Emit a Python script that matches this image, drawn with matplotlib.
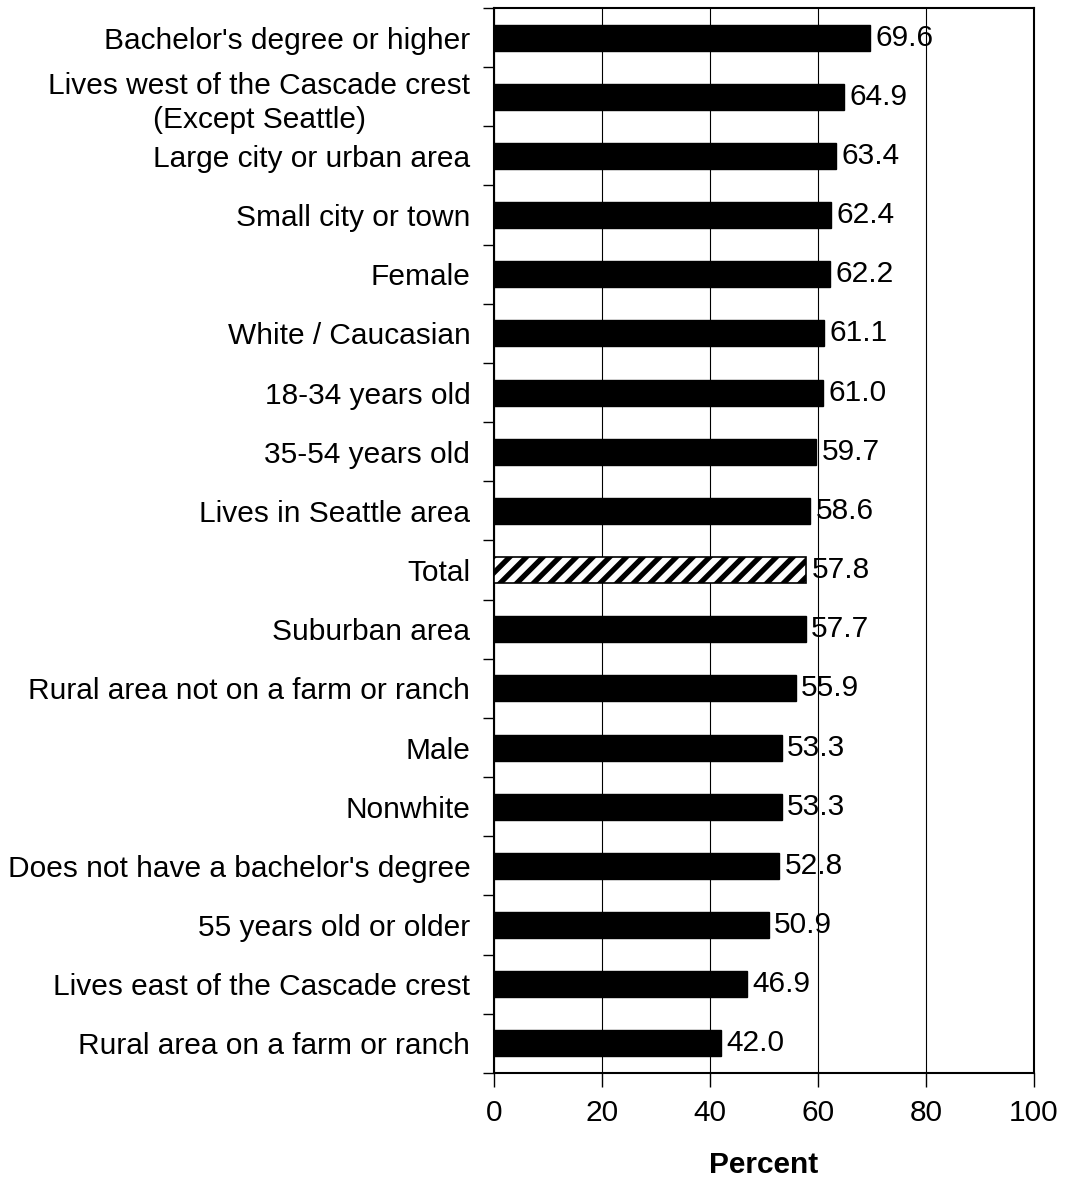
import matplotlib
matplotlib.use("Agg")
import matplotlib.pyplot as plt
import numpy as np

categories = [
    "Bachelor's degree or higher",
    "Lives west of the Cascade crest\n(Except Seattle)",
    "Large city or urban area",
    "Small city or town",
    "Female",
    "White / Caucasian",
    "18-34 years old",
    "35-54 years old",
    "Lives in Seattle area",
    "Total",
    "Suburban area",
    "Rural area not on a farm or ranch",
    "Male",
    "Nonwhite",
    "Does not have a bachelor's degree",
    "55 years old or older",
    "Lives east of the Cascade crest",
    "Rural area on a farm or ranch",
]
values = [69.6, 64.9, 63.4, 62.4, 62.2, 61.1, 61.0, 59.7, 58.6, 57.8,
          57.7, 55.9, 53.3, 53.3, 52.8, 50.9, 46.9, 42.0]
x_ticks = [0, 20, 40, 60, 80, 100]

plt.rcParams['font.family'] = ['Liberation Sans', 'DejaVu Sans']
plt.rcParams['hatch.linewidth'] = 3.8

FS = 21.5

fig = plt.figure(figsize=(10.65, 11.77), dpi=100)
ax = fig.add_axes([0.4638, 0.0884, 0.5071, 0.9048])

n = len(categories)
ypos = np.arange(n)
for y, v, c in zip(ypos, values, categories):
    if c == "Total":
        ax.barh(y, v, height=0.44, color='white', edgecolor='black',
                hatch='//', linewidth=1.2, zorder=3)
    else:
        ax.barh(y, v, height=0.44, color='black', edgecolor='black', zorder=3)
    ax.text(v + 1.0, y, f"{v:.1f}", va='center', ha='left', fontsize=FS, zorder=4)

ax.set_ylim(n - 0.5, -0.5)
ax.set_xlim(0, 100)

# boundary ticks between categories, labels at the centres
ax.set_yticks(np.arange(-0.5, n, 1.0))
ax.set_yticklabels([])
ax.set_yticks(ypos, minor=True)
ax.set_yticklabels(categories, minor=True, fontsize=FS, ha='right')
ax.tick_params(axis='y', which='minor', length=0, pad=17)
ax.tick_params(axis='y', which='major', length=8, width=1, direction='out')
for lbl in ax.get_yticklabels(minor=True):
    lbl.set_multialignment('center')
    lbl.set_linespacing(1.3)

ax.set_xticks(x_ticks)
ax.set_xticklabels([str(t) for t in x_ticks], fontsize=FS)
ax.tick_params(axis='x', length=10, width=1, direction='out', pad=9)

ax.xaxis.grid(True, color='black', linewidth=0.8, zorder=0)
ax.set_axisbelow(True)
for s in ax.spines.values():
    s.set_linewidth(1.5)

ax.set_xlabel("Percent", fontsize=FS, fontweight='bold', labelpad=17)

fig.savefig("out.png", dpi=100)
